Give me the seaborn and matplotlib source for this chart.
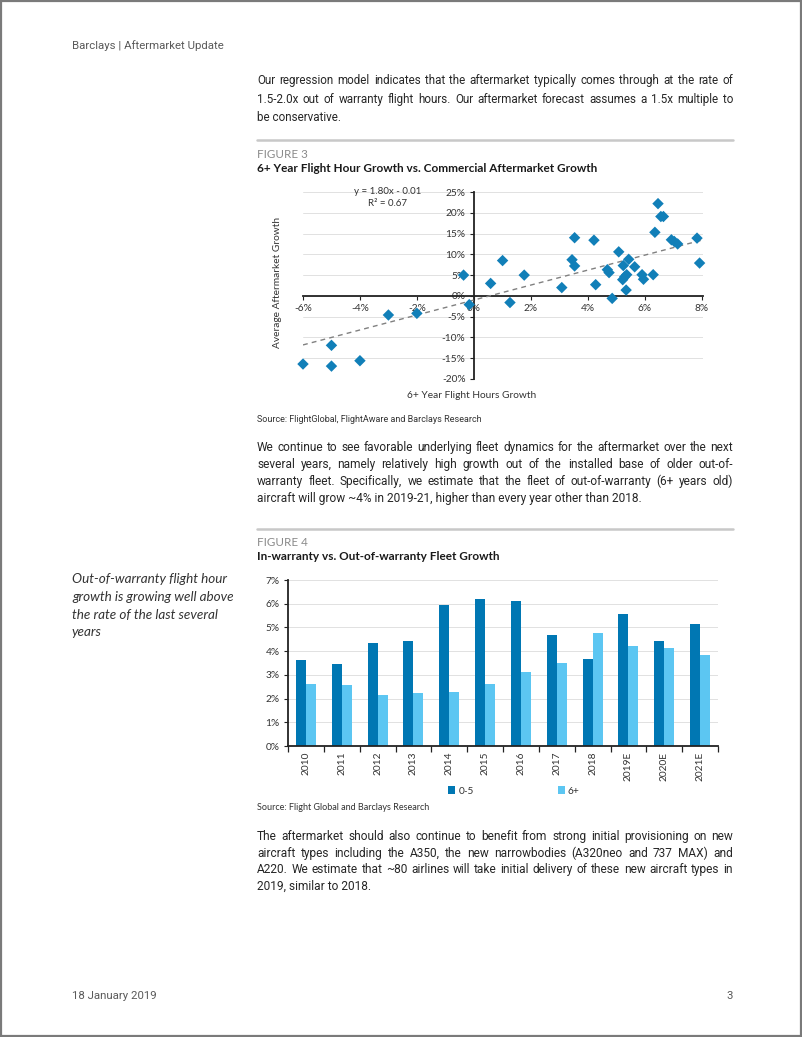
import numpy as np
import pandas as pd
import matplotlib
matplotlib.use("Agg")
import matplotlib.pyplot as plt
from matplotlib import font_manager as fm
from matplotlib.patches import Rectangle
from matplotlib.lines import Line2D
import seaborn as sns

# ---------------- data ----------------
# Figure 3: scatter (percent)
flight_hours_growth = [-6.0, -5.0, -5.0, -4.0, -3.0, -2.0, -0.36, -0.16, 0.59, 1.01, 1.27, 1.77,
                       3.09, 3.45, 3.54, 3.54, 4.22, 4.28, 4.69, 4.75, 4.86, 5.09, 5.25, 5.23,
                       5.30, 5.37, 5.35, 5.44, 5.65, 5.91, 5.96, 6.30, 6.36, 6.47, 6.57, 6.66,
                       6.94, 7.04, 7.16, 7.84, 7.93]
aftermarket_growth = [-16.4, -11.9, -16.9, -15.6, -4.6, -4.2, 5.0, -2.1, 3.0, 8.5, -1.6, 5.0,
                      2.0, 8.7, 14.0, 7.2, 13.4, 2.7, 6.3, 5.6, -0.6, 10.6, 7.3, 3.9,
                      4.6, 5.1, 1.4, 8.8, 7.0, 5.1, 4.0, 5.1, 15.3, 22.2, 19.1, 19.1,
                      13.5, 13.1, 12.5, 13.9, 7.9]
trend_slope = 1.80
trend_intercept = -0.01
trend_r2 = 0.67
trend_x_range = [-6, 8]
scatter_xticks = [-6, -4, -2, 0, 2, 4, 6, 8]
scatter_yticks = [-20, -15, -10, -5, 0, 5, 10, 15, 20, 25]

# Figure 4: grouped bars (percent)
years = ["2010", "2011", "2012", "2013", "2014", "2015", "2016", "2017", "2018", "2019E", "2020E", "2021E"]
growth_0_5 = [3.64, 3.44, 4.34, 4.41, 5.94, 6.19, 6.10, 4.66, 3.67, 5.57, 4.44, 5.14]
growth_6_plus = [2.63, 2.59, 2.13, 2.25, 2.27, 2.63, 3.14, 3.50, 4.75, 4.20, 4.14, 3.85]
series_names = ["0-5", "6+"]
bar_yticks = [0, 1, 2, 3, 4, 5, 6, 7]

# ---------------- page setup ----------------
W, H = 802, 1037
sns.set_theme(style="white")


def has_font(name):
    try:
        fm.findfont(fm.FontProperties(family=name), fallback_to_default=False)
        return True
    except Exception:
        return False


BODY = "Liberation Sans Narrow" if has_font("Liberation Sans Narrow") else "Roboto"
CHART = "Lato" if has_font("Lato") else "DejaVu Sans"
plt.rcParams["font.family"] = [CHART, "DejaVu Sans"]

fig = plt.figure(figsize=(W / 100, H / 100), dpi=100)
fig.patch.set_facecolor("white")
renderer = fig.canvas.get_renderer()

TEXT = "#262626"


def fx(x):
    return x / W


def fy(y):
    return 1 - y / H


def measure(s, family, size, style="normal", weight="normal"):
    t = fig.text(0, 0, s, family=family, fontsize=size, style=style, weight=weight)
    w = t.get_window_extent(renderer).width
    t.remove()
    return w


def fit_size(s, width, family, style="normal", weight="normal"):
    return 10 * width / measure(s, family, 10, style, weight)


def put(x, y, s, family, size, color=TEXT, ha="left", style="normal", weight="normal", rotation=0,
        va="center"):
    fig.text(fx(x), fy(y), s, family=family, fontsize=size, color=color, ha=ha, va=va,
             style=style, weight=weight, rotation=rotation)


def paragraph(lines, x0, x1, ys, family, color=TEXT):
    justified = lines[:-1]
    size = min(fit_size(l, (x1 - x0) * 0.975, family) for l in justified)
    off = size * 1.389 * 0.36  # center -> baseline
    for i, (line, y) in enumerate(zip(lines, ys)):
        if i == len(lines) - 1:
            put(x0, y + off, line, family, size, color, va="baseline")
            continue
        words = line.split(" ")
        widths = [measure(w, family, size) for w in words]
        gap = (x1 - x0 - sum(widths)) / (len(words) - 1)
        x = x0
        for w, wd in zip(words, widths):
            put(x, y + off, w, family, size, color, va="baseline")
            x += wd + gap


# page border
fig.patches.append(Rectangle((fx(1), fy(1036)), fx(800), 1035 / H, transform=fig.transFigure,
                             fill=False, edgecolor="#7a7a7a", lw=1.6))

# header / footer
hsize = fit_size("Barclays | Aftermarket Update", 152, BODY)
put(72, 46, "Barclays | Aftermarket Update", BODY, hsize, "#5a5a5a")
put(72, 996, "18 January 2019", BODY, hsize, "#5a5a5a")
put(733, 996, "3", BODY, hsize, "#5a5a5a", ha="right")

paragraph(["Our regression model indicates that the aftermarket typically comes through at the rate of",
           "1.5-2.0x out of warranty flight hours. Our aftermarket forecast assumes a 1.5x multiple to",
           "be conservative."], 257, 733, [80, 99, 117], BODY)

paragraph(["We continue to see favorable underlying fleet dynamics for the aftermarket over the next",
           "several years, namely relatively high growth out of the installed base of older out-of-",
           "warranty fleet. Specifically, we estimate that the fleet of out-of-warranty (6+ years old)",
           "aircraft will grow ~4% in 2019-21, higher than every year other than 2018."],
          257, 733, [447, 464, 481, 498], BODY)

paragraph(["The aftermarket should also continue to benefit from strong initial provisioning on new",
           "aircraft types including the A350, the new narrowbodies (A320neo and 737 MAX) and",
           "A220. We estimate that ~80 airlines will take initial delivery of these new aircraft types in",
           "2019, similar to 2018."], 257, 733, [836, 853, 869, 886], BODY)

# sidebar
side = ["Out-of-warranty flight hour", "growth is growing well above", "the rate of the last several", "years"]
side_size = fit_size(side[1], 162, CHART, style="italic")
for s, y in zip(side, [579, 597, 615, 632]):
    put(72, y, s, CHART, side_size, "#333333", style="italic")

# rules
for y in (140, 529):
    fig.lines.append(Line2D([fx(257), fx(733)], [fy(y), fy(y)], transform=fig.transFigure,
                            color="#c8c8c8", lw=1.8))

# figure headings
fig_size = fit_size("FIGURE 3", 50, CHART)
put(257, 154, "FIGURE 3", CHART, fig_size, "#8a8a8a")
put(257, 542, "FIGURE 4", CHART, fig_size, "#8a8a8a")
t3 = "6+ Year Flight Hour Growth vs. Commercial Aftermarket Growth"
put(257, 169, t3, CHART, fit_size(t3, 339, CHART, weight="bold"), "#1a1a1a", weight="bold")
t4 = "In-warranty vs. Out-of-warranty Fleet Growth"
put(257, 557, t4, CHART, fit_size(t4, 243, CHART, weight="bold"), "#1a1a1a", weight="bold")

# ---------------- Figure 3 scatter ----------------
TICK = 7.3
ax1 = fig.add_axes([fx(303), fy(379), 400 / W, 187 / H])
sc_df = pd.DataFrame({"x": flight_hours_growth, "y": aftermarket_growth})
sns.scatterplot(data=sc_df, x="x", y="y", ax=ax1, marker="D", s=34, color="#117fb8",
                edgecolor="none", zorder=4, clip_on=False)
trend_x = np.array(trend_x_range, dtype=float)
tr_df = pd.DataFrame({"x": trend_x, "y": trend_slope * trend_x + trend_intercept * 100})
sns.lineplot(data=tr_df, x="x", y="y", ax=ax1, color="#808080", lw=1.0, linestyle=(0, (3.5, 3)), zorder=3)
ax1.set_xlim(-6, 8.05)
ax1.set_ylim(-20, 25)
ax1.set_xticks(scatter_xticks)
ax1.set_yticks(scatter_yticks)
ax1.set_xticklabels([f"{v}%" for v in scatter_xticks])
ax1.set_yticklabels([f"{v}%" for v in scatter_yticks])
for sp in ("top", "right"):
    ax1.spines[sp].set_visible(False)
ax1.spines["left"].set_position(("data", 0))
ax1.spines["bottom"].set_position(("data", 0))
for sp in ("left", "bottom"):
    ax1.spines[sp].set_color("#222222")
    ax1.spines[sp].set_linewidth(1.3)
ax1.tick_params(axis="both", labelsize=TICK, colors="#222222", labelcolor="#333333", length=3, width=0.8,
                direction="out", pad=3)
ax1.tick_params(axis="x", bottom=True)
ax1.tick_params(axis="y", left=True)
ax1.yaxis.grid(True, color="#e1e1e1", lw=0.7)
ax1.xaxis.grid(False)
ax1.set_axisbelow(True)
ax1.set_xlabel("")
ax1.set_ylabel("")
ax1.patch.set_alpha(0)

put(277, 282, "Average Aftermarket Growth", CHART, TICK, "#333333", ha="center", rotation=90)
put(472, 396, "6+ Year Flight Hours Growth", CHART, TICK, "#333333", ha="center")
put(388, 191, f"y = {trend_slope:.2f}x - {abs(trend_intercept):.2f}", CHART, TICK - 0.3, "#333333", ha="center")
put(388, 204, f"R² = {trend_r2:.2f}", CHART, TICK - 0.3, "#333333", ha="center")

src1 = "Source: FlightGlobal, FlightAware and Barclays Research"
put(257, 419, src1, BODY, fit_size(src1, 223, BODY), "#333333")

# ---------------- Figure 4 bars ----------------
ax2 = fig.add_axes([fx(288), fy(746), 430 / W, 166 / H])
bar_df = pd.DataFrame({
    "year": years * 2,
    "value": growth_0_5 + growth_6_plus,
    "series": [series_names[0]] * len(years) + [series_names[1]] * len(years),
})
sns.barplot(data=bar_df, x="year", y="value", hue="series", ax=ax2,
            palette=["#0077b3", "#5cc6f2"], width=0.56, gap=0, saturation=1, edgecolor="none")
handles, labels = ax2.get_legend_handles_labels()
if ax2.get_legend() is not None:
    ax2.get_legend().remove()
ax2.set_xlim(-0.5, len(years) - 0.5)
ax2.set_ylim(0, 7)
ax2.set_yticks(bar_yticks)
ax2.set_yticklabels([f"{v}%" for v in bar_yticks])
ax2.set_xticks(range(len(years)))
ax2.set_xticklabels(years, rotation=90)
ax2.set_xticks(np.arange(len(years) + 1) - 0.5, minor=True)
ax2.tick_params(axis="x", which="major", length=0, labelsize=TICK, labelcolor="#333333", pad=4)
ax2.tick_params(axis="x", which="minor", bottom=True, length=4, width=0.9, color="#222222", direction="out")
ax2.tick_params(axis="y", left=True, length=3, width=0.8, color="#222222", labelsize=TICK,
                labelcolor="#333333", pad=3)
for sp in ("top", "right"):
    ax2.spines[sp].set_visible(False)
for sp in ("left", "bottom"):
    ax2.spines[sp].set_color("#222222")
    ax2.spines[sp].set_linewidth(1.3)
ax2.yaxis.grid(True, color="#e1e1e1", lw=0.7)
ax2.xaxis.grid(False)
ax2.set_axisbelow(True)
ax2.set_xlabel("")
ax2.set_ylabel("")
ax2.patch.set_alpha(0)

ax2.legend(handles, labels, loc="center", bbox_to_anchor=(fx(514), fy(791)), bbox_transform=fig.transFigure,
           ncol=2, frameon=False, handlelength=0.7, handleheight=0.7, handletextpad=0.3,
           columnspacing=8.3, fontsize=TICK, labelcolor="#333333")

src2 = "Source: Flight Global and Barclays Research"
put(257, 808, src2, CHART, fit_size(src2, 173, CHART), "#333333")

fig.savefig("out.png", dpi=100, facecolor="white")
